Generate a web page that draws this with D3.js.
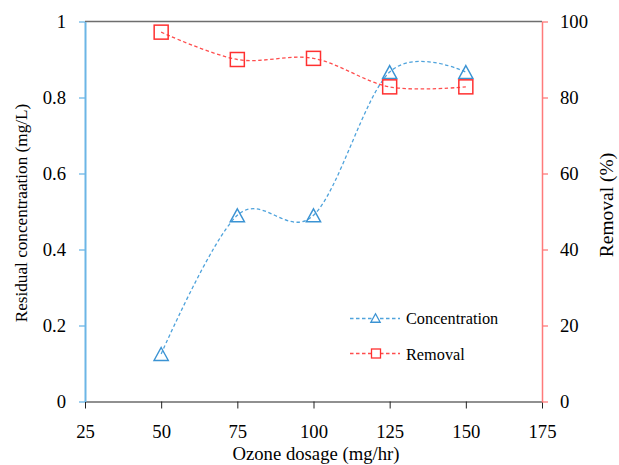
<!DOCTYPE html>
<html>
<head>
<meta charset="utf-8">
<script src="https://cdn.jsdelivr.net/npm/d3@7"></script>
<style>
  html, body { margin: 0; padding: 0; background: #fff; }
  svg { display: block; }
</style>
</head>
<body>
<svg id="chart" width="619" height="465"></svg>
<script>
// Ozone dosage (mg/hr)
const dosage = [50, 75, 100, 125, 150];
// Residual concentration (mg/L)
const concentration = [0.125, 0.49, 0.49, 0.867, 0.867];
// Removal (%)
const removal = [97.2, 90.0, 90.3, 82.8, 82.8];

const xTicks = [25, 50, 75, 100, 125, 150, 175];
const leftTicks = [0, 0.2, 0.4, 0.6, 0.8, 1];
const rightTicks = [0, 20, 40, 60, 80, 100];

const FONT = "'Liberation Serif', 'Times New Roman', Times, Tinos, 'Nimbus Roman', 'Nimbus Roman No9 L', FreeSerif, 'Noto Serif', 'DejaVu Serif', Georgia, serif";
const BLUE_AXIS = "#6cb6e6", BLUE_LINE = "#4fa3dc", BLUE_MARK = "#3b93d3";
const RED_AXIS = "#ff7a7a", RED_LINE = "#ff4d4d", RED_MARK = "#ff3030";

const svg = d3.select("#chart");
const L = 85, R = 542, T = 21.5, B = 401.5;

const x = d3.scaleLinear().domain([25, 175]).range([L, R]);
const yL = d3.scaleLinear().domain([0, 1]).range([B, T]);
const yR = d3.scaleLinear().domain([0, 100]).range([B, T]);

function styleText(sel, size) {
  sel.attr("font-family", null)
    .style("font-family", FONT).style("font-size", size).style("fill", "#000");
}

// top frame line
svg.append("line").attr("x1", L).attr("x2", R).attr("y1", T).attr("y2", T)
  .attr("stroke", "#6e6e6e").attr("stroke-width", 1.5);

// bottom axis
const gx = svg.append("g").attr("transform", `translate(0,${B})`)
  .call(d3.axisBottom(x).tickValues(xTicks).tickSize(7).tickSizeOuter(0).tickPadding(16).tickFormat(d3.format("d")));
gx.attr("font-family", null);
gx.select(".domain").attr("stroke", "#222").attr("stroke-width", 1.2);
gx.selectAll(".tick line").attr("stroke", "#222");
styleText(gx.selectAll("text"), "18.7px");

// left axis (concentration)
const gl = svg.append("g").attr("transform", `translate(${L},0)`)
  .call(d3.axisLeft(yL).tickValues(leftTicks).tickSize(6).tickSizeOuter(0).tickPadding(13).tickFormat(d3.format("~g")));
gl.attr("font-family", null);
gl.select(".domain").attr("stroke", BLUE_AXIS).attr("stroke-width", 2);
gl.selectAll(".tick line").attr("stroke", BLUE_AXIS).attr("stroke-width", 1.3);
styleText(gl.selectAll("text"), "18.7px");

// right axis (removal)
const gr = svg.append("g").attr("transform", `translate(${R},0)`)
  .call(d3.axisRight(yR).tickValues(rightTicks).tickSize(6).tickSizeOuter(0).tickPadding(12).tickFormat(d3.format("d")));
gr.attr("font-family", null);
gr.select(".domain").attr("stroke", RED_AXIS).attr("stroke-width", 1.5);
gr.selectAll(".tick line").attr("stroke", RED_AXIS).attr("stroke-width", 1.3);
styleText(gr.selectAll("text"), "18.7px");

// axis titles
styleText(svg.append("text").attr("x", 316).attr("y", 460).attr("text-anchor", "middle")
  .text("Ozone dosage (mg/hr)"), "18.7px");
styleText(svg.append("text").attr("transform", "translate(27,213) rotate(-90)").attr("text-anchor", "middle")
  .text("Residual concentraation (mg/L)"), "17.2px");
styleText(svg.append("text").attr("transform", "translate(613,205) rotate(-90)").attr("text-anchor", "middle")
  .text("Removal (%)"), "19.5px");

const smooth = d3.curveCardinal.tension(0);
const triPath = (s) => `M0,${-s * 0.5}L${s * 0.55},${s * 0.5}L${-s * 0.55},${s * 0.5}Z`;

// concentration series
const concLine = d3.line().x((d, i) => x(dosage[i])).y(d => yL(d)).curve(smooth);
svg.append("path").datum(concentration).attr("d", concLine)
  .attr("fill", "none").attr("stroke", BLUE_LINE).attr("stroke-width", 1.3)
  .attr("stroke-dasharray", "3.5,2.5");
svg.selectAll(".tri").data(concentration).join("path").attr("class", "tri")
  .attr("transform", (d, i) => `translate(${x(dosage[i])},${yL(d)})`)
  .attr("d", triPath(13)).attr("fill", "none").attr("stroke", BLUE_MARK).attr("stroke-width", 1.4);

// removal series
const remLine = d3.line().x((d, i) => x(dosage[i])).y(d => yR(d)).curve(smooth);
svg.append("path").datum(removal).attr("d", remLine)
  .attr("fill", "none").attr("stroke", RED_LINE).attr("stroke-width", 1.3)
  .attr("stroke-dasharray", "3.5,2.5");
svg.selectAll(".sq").data(removal).join("rect").attr("class", "sq")
  .attr("x", (d, i) => x(dosage[i]) - 7).attr("y", d => yR(d) - 7)
  .attr("width", 14).attr("height", 14)
  .attr("fill", "none").attr("stroke", RED_MARK).attr("stroke-width", 1.5);

// legend
const legend = [
  { label: "Concentration", color: BLUE_LINE, mark: BLUE_MARK, shape: "tri", y: 318.5, ty: 324 },
  { label: "Removal", color: RED_LINE, mark: RED_MARK, shape: "sq", y: 353.5, ty: 359.5 }
];
const lg = svg.append("g");
legend.forEach(it => {
  lg.append("line").attr("x1", 350).attr("x2", 400).attr("y1", it.y).attr("y2", it.y)
    .attr("stroke", it.color).attr("stroke-width", 1.3).attr("stroke-dasharray", "3.5,2.5");
  if (it.shape === "tri") {
    lg.append("path").attr("transform", `translate(375.5,${it.y - 0.5})`).attr("d", triPath(8.5))
      .attr("fill", "#fff").attr("stroke", it.mark).attr("stroke-width", 1.3);
  } else {
    lg.append("rect").attr("x", 371.5).attr("y", it.y - 4.5).attr("width", 9).attr("height", 9)
      .attr("fill", "#fff").attr("stroke", it.mark).attr("stroke-width", 1.3);
  }
  styleText(lg.append("text").attr("x", 406).attr("y", it.ty).text(it.label), "16.3px");
});
</script>
</body>
</html>
